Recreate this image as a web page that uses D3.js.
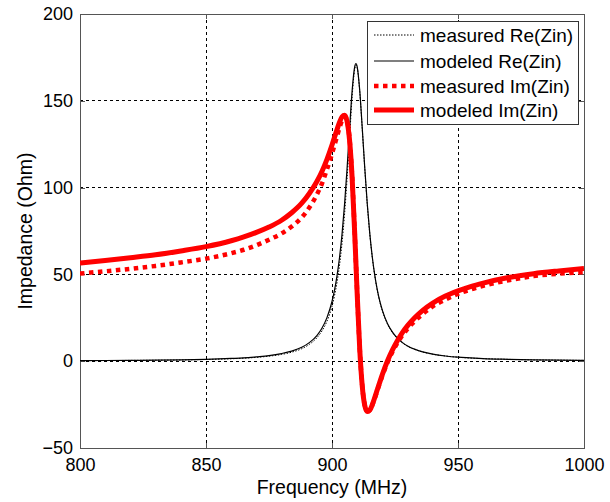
<!DOCTYPE html>
<html>
<head>
<meta charset="utf-8">
<script src="https://cdn.jsdelivr.net/npm/d3@7"></script>
<style>
  html, body { margin: 0; padding: 0; background: #fff; }
  svg { display: block; font-family: "Liberation Sans", Arial, Helvetica, sans-serif; }
</style>
</head>
<body>
<svg id="chart" width="610" height="502"></svg>
<script>
// Frequency samples (MHz), denser around the resonance
const freq = [800, 810, 820, 830, 840, 850, 860, 865, 870, 875, 880, 884, 888, 891, 894, 896, 898,
  900, 901, 902, 903, 904, 905, 906, 907, 908, 909, 909.5, 910, 911, 912, 913, 914, 915, 916, 917,
  918, 919, 920, 922, 924, 926, 928, 930, 933, 936, 940, 945, 950, 955, 960, 970, 980, 990, 1000];

// Real part of input impedance (Ohm)
const reMeasured = [0.3, 0.35, 0.45, 0.55, 0.7, 1.0, 1.4, 1.75, 2.2, 2.9, 3.9, 5.2, 7.2, 9.7, 13.5, 17.4,
  23.0, 31.6, 37.8, 45.6, 55.5, 68.4, 85.0, 105.5, 129.0, 152.5, 168.0, 170.5, 169.0, 155.5, 134.0,
  111.0, 90.3, 73.2, 59.6, 49.0, 40.6, 34.1, 29.0, 21.5, 16.5, 13.0, 10.5, 8.6, 6.7, 5.3, 4.0, 3.0,
  2.3, 1.8, 1.5, 1.05, 0.75, 0.6, 0.45];
const reModeled = [0.3, 0.4, 0.5, 0.6, 0.8, 1.1, 1.6, 1.9, 2.5, 3.2, 4.4, 5.8, 8.0, 10.7, 14.8, 19.0,
  25.1, 34.4, 40.9, 49.3, 59.9, 73.5, 90.6, 111.4, 134.4, 156.0, 169.6, 171.5, 169.6, 156.0, 134.4,
  111.4, 90.6, 73.5, 59.9, 49.3, 40.9, 34.4, 29.3, 21.7, 16.7, 13.2, 10.7, 8.8, 6.8, 5.4, 4.1, 3.0,
  2.3, 1.9, 1.5, 1.1, 0.8, 0.6, 0.5];

// Imaginary part of input impedance (Ohm)
const imMeasured = [50.5, 51.8, 53.2, 54.9, 56.9, 59.1, 62.2, 64.2, 66.8, 70.0, 73.6, 77.6, 82.8, 88.5,
  96.0, 102.3, 110.5, 119.5, 124.5, 129.5, 134.6, 138.7, 141.0, 138.5, 127.5, 106.0, 74.5, 56.5, 39.0,
  7.5, -14.0, -25.3, -28.8, -28.2, -25.2, -21.2, -16.8, -12.5, -8.3, -0.8, 5.5, 10.6, 15.0, 18.7, 23.3,
  27.2, 31.6, 35.5, 38.8, 41.3, 43.4, 46.6, 49.0, 50.4, 51.3];
const imModeled = [56.5, 58.0, 59.6, 61.3, 63.5, 66.0, 69.4, 71.6, 74.2, 77.3, 81.2, 85.5, 91.0, 96.6,
  103.5, 109.3, 116.3, 124.5, 129.0, 133.5, 137.7, 140.8, 141.7, 138.1, 126.8, 105.4, 74.0, 56.3, 38.5,
  7.1, -14.3, -25.5, -29.0, -28.2, -25.0, -20.8, -16.3, -11.9, -7.6, 0.1, 6.5, 11.9, 16.6, 20.5, 25.3,
  29.3, 33.5, 37.5, 40.5, 43.0, 45.0, 48.2, 50.4, 52.0, 53.4];

const xTicks = [800, 850, 900, 950, 1000];
const yTicks = [-50, 0, 50, 100, 150, 200];

const seriesNames = ["measured Re(Zin)", "modeled Re(Zin)", "measured Im(Zin)", "modeled Im(Zin)"];

const svg = d3.select("#chart");
const plotLeft = 80, plotRight = 584, plotTop = 14, plotBottom = 448;

const x = d3.scaleLinear().domain([800, 1000]).range([plotLeft, plotRight]);
const y = d3.scaleLinear().domain([-50, 200]).range([plotBottom, plotTop]);

const tickFont = 18;
const labelFont = 19.5;
const legendFont = 19;

// grid
const grid = svg.append("g").attr("stroke", "#000").attr("stroke-width", 1)
  .attr("stroke-dasharray", "3,3").attr("shape-rendering", "crispEdges");
xTicks.slice(1, -1).forEach(t => {
  grid.append("line").attr("x1", x(t)).attr("x2", x(t)).attr("y1", plotTop).attr("y2", plotBottom);
});
yTicks.slice(1, -1).forEach(t => {
  grid.append("line").attr("x1", plotLeft).attr("x2", plotRight).attr("y1", y(t)).attr("y2", y(t));
});

// axes with inward ticks on all four sides
const tickLen = 5;
const fmt = d3.format("d");
const axB = svg.append("g").attr("transform", `translate(0,${plotBottom})`)
  .call(d3.axisBottom(x).tickValues(xTicks).tickFormat(fmt).tickSizeInner(-tickLen).tickSizeOuter(0).tickPadding(10));
const axT = svg.append("g").attr("transform", `translate(0,${plotTop})`)
  .call(d3.axisTop(x).tickValues(xTicks).tickSizeInner(-tickLen).tickSizeOuter(0).tickFormat(""));
const axL = svg.append("g").attr("transform", `translate(${plotLeft},0)`)
  .call(d3.axisLeft(y).tickValues(yTicks).tickFormat(fmt).tickSizeInner(-tickLen).tickSizeOuter(0).tickPadding(7));
const axR = svg.append("g").attr("transform", `translate(${plotRight},0)`)
  .call(d3.axisRight(y).tickValues(yTicks).tickSizeInner(-tickLen).tickSizeOuter(0).tickFormat(""));
[axB, axT, axL, axR].forEach(a => {
  a.select(".domain").attr("stroke", "#555").attr("shape-rendering", "crispEdges");
  a.selectAll(".tick line").attr("stroke", "#555").attr("shape-rendering", "crispEdges");
  a.selectAll("text").attr("font-size", tickFont).attr("fill", "#000")
    .attr("font-family", "Liberation Sans, Arial, sans-serif");
});

// curves
svg.append("clipPath").attr("id", "plotclip").append("rect")
  .attr("x", plotLeft).attr("y", plotTop).attr("width", plotRight - plotLeft).attr("height", plotBottom - plotTop);
const plot = svg.append("g").attr("clip-path", "url(#plotclip)");

function lineFor(values) {
  return d3.line().x((d, i) => x(freq[i])).y(d => y(d)).curve(d3.curveMonotoneX)(values);
}
const styles = [
  { values: reMeasured, color: "#000", width: 1, dash: "1.5,1.5" },
  { values: reModeled,  color: "#000", width: 1.2, dash: null },
  { values: imMeasured, color: "#ff0000", width: 4.5, dash: "4.5,4.5" },
  { values: imModeled,  color: "#ff0000", width: 5, dash: null }
];
styles.forEach(s => {
  plot.append("path").attr("d", lineFor(s.values)).attr("fill", "none")
    .attr("stroke", s.color).attr("stroke-width", s.width)
    .attr("stroke-dasharray", s.dash).attr("stroke-linejoin", "round");
});

// axis titles
svg.append("text").attr("x", (plotLeft + plotRight) / 2).attr("y", 494).attr("text-anchor", "middle")
  .attr("font-size", labelFont).text("Frequency (MHz)");
svg.append("text").attr("transform", `translate(32,${(plotTop + plotBottom) / 2}) rotate(-90)`)
  .attr("text-anchor", "middle").attr("font-size", labelFont).text("Impedance (Ohm)");

// legend
const lg = svg.append("g");
lg.append("rect").attr("x", 367.5).attr("y", 21.5).attr("width", 211).attr("height", 103)
  .attr("fill", "#fff").attr("stroke", "#333").attr("stroke-width", 1);
const rowY = [35, 61, 86, 110];
styles.forEach((s, i) => {
  lg.append("line").attr("x1", 374).attr("x2", 414).attr("y1", rowY[i]).attr("y2", rowY[i])
    .attr("stroke", s.color).attr("stroke-width", s.width).attr("stroke-dasharray", s.dash);
  lg.append("text").attr("x", 420).attr("y", rowY[i]).attr("dy", "0.35em")
    .attr("font-size", legendFont).text(seriesNames[i]);
});
</script>
</body>
</html>
